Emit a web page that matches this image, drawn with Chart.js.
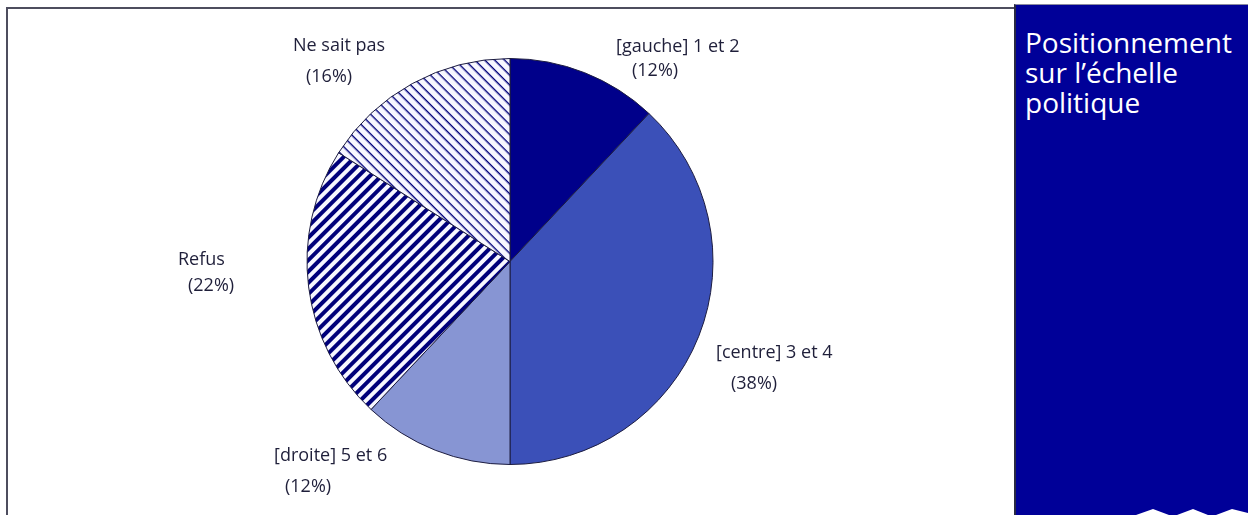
<!DOCTYPE html>
<html lang="fr">
<head>
<meta charset="utf-8">
<title>Positionnement sur l'échelle politique</title>
<script src="https://cdn.jsdelivr.net/npm/chart.js@4.4.1/dist/chart.umd.min.js"></script>
<style>
    html, body { margin: 0; padding: 0; background: #fff; }
    body { width: 1248px; height: 515px; position: relative; overflow: hidden; font-family: 'Open Sans', sans-serif; }
    #frame { position: absolute; left: 6px; top: 7px; width: 1010px; height: 520px; border: 2px solid #4d4d5e; box-sizing: border-box; }
    #chartBox { position: absolute; left: 0; top: 0; width: 1010px; height: 515px; }
    #panel { position: absolute; left: 1014px; top: 4px; width: 234px; height: 511px; background: #000098; border-top: 1px solid #8a8aa0; border-left: 2px solid #2a2a44; box-sizing: border-box; }
    #panel h1 { margin: 0; position: absolute; left: 9px; top: 22px; font-weight: 400; font-size: 28px; line-height: 30px; color: #fff; }
    #panel svg { position: absolute; left: -2px; bottom: 0; }
</style>
</head>
<body>
<div id="frame"></div>
<div id="chartBox"><canvas id="pieChart"></canvas></div>
<div id="panel">
    <h1>Positionnement<br>sur l’échelle<br>politique</h1>
    <svg width="234" height="10" viewBox="1014 505 234 10">
        <polygon fill="#fff" points="1136,515 1153,509 1169,515 1177,515 1193,509 1208,515 1216,515 1232,509 1248,513 1248,515"/>
    </svg>
</div>

<script>
// Réponses (en %)
const categories = ['[gauche] 1 et 2', '[centre] 3 et 4', '[droite] 5 et 6', 'Refus', 'Ne sait pas'];
const percents = [12, 38, 12, 22, 16];

const INK = '#00007a';
const PAPER = '#f7f7ff';
const TEXT_COLOR = '#1f1f3a';

/**
 * Motif de hachures : bandes horizontales tournées de `angle` degrés
 * @param {number} period - pas entre deux traits (px entiers)
 * @param {number} width - épaisseur du trait
 * @param {number} angle - rotation en degrés
 */
function hatch(period, width, angle) {
    const c = document.createElement('canvas');
    c.width = 4;
    c.height = period;
    const g = c.getContext('2d');
    g.fillStyle = PAPER;
    g.fillRect(0, 0, 4, period);
    g.fillStyle = INK;
    g.fillRect(0, 0, 4, width);
    const pattern = g.createPattern(c, 'repeat');
    pattern.setTransform(new DOMMatrix().rotate(angle));
    return pattern;
}

const sliceFills = [
    '#00008a',
    '#3b50b8',
    '#8795d3',
    hatch(8, 4, -45),
    hatch(7, 1.4, 45)
];

// Étiquettes : décalage par rapport au centre du camembert
const labelPlacement = [
    { x: 106, y: -215, indent: 16, lead: 24 },
    { x: 206, y: 91, indent: 15, lead: 31 },
    { x: -236, y: 194, indent: 11, lead: 31 },
    { x: -332, y: -2, indent: 10, lead: 26 },
    { x: -217, y: -216, indent: 13, lead: 31 }
];

const sliceLabels = {
    id: 'sliceLabels',
    afterDraw(chart) {
        const arc = chart.getDatasetMeta(0).data[0];
        if (!arc) return;
        const ctx = chart.ctx;
        ctx.save();
        ctx.font = '18px "Open Sans", sans-serif';
        ctx.fillStyle = TEXT_COLOR;
        ctx.textAlign = 'left';
        ctx.textBaseline = 'middle';
        categories.forEach((name, i) => {
            const p = labelPlacement[i];
            const x = arc.x + p.x;
            const y = arc.y + p.y;
            ctx.fillText(name, x, y);
            ctx.fillText('(' + percents[i] + '%)', x + p.indent, y + p.lead);
        });
        ctx.restore();
    }
};

new Chart(document.getElementById('pieChart'), {
    type: 'pie',
    data: {
        labels: categories,
        datasets: [{
            data: percents,
            backgroundColor: sliceFills,
            borderColor: '#1c1c40',
            borderWidth: 1
        }]
    },
    options: {
        responsive: true,
        maintainAspectRatio: false,
        animation: false,
        events: [],
        layout: { padding: { top: 58, bottom: 50, left: 10, right: 0 } },
        plugins: {
            legend: { display: false },
            tooltip: { enabled: false }
        }
    },
    plugins: [sliceLabels]
});
</script>
</body>
</html>
